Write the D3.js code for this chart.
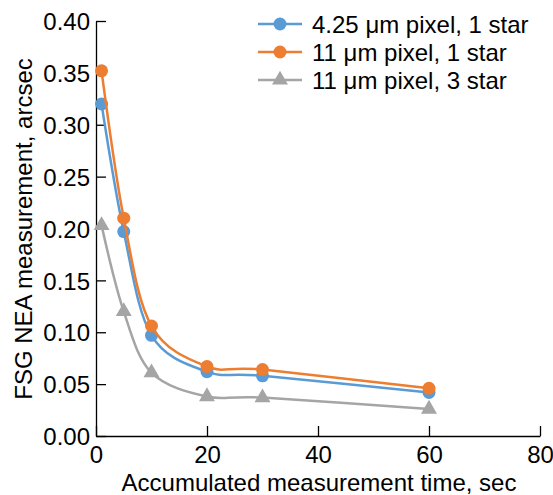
<!DOCTYPE html>
<html><head><meta charset="utf-8">
<script src="https://cdn.jsdelivr.net/npm/d3@7"></script>
<style>body{margin:0;background:#fff;} text{font-family:"Liberation Sans",Arial,sans-serif;fill:#000;}</style>
</head><body>
<svg id="c" width="553" height="495"></svg>
<script>
const xValues = [1, 5, 10, 20, 30, 60];
const blueValues = [0.320, 0.197, 0.097, 0.062, 0.058, 0.042];
const orangeValues = [0.352, 0.210, 0.106, 0.067, 0.064, 0.046];
const grayValues = [0.203, 0.120, 0.061, 0.038, 0.037, 0.026];
const seriesNames = ["4.25 \u03bcm pixel, 1 star", "11 \u03bcm pixel, 1 star", "11 \u03bcm pixel, 3 star"];
const xTicks = [0, 20, 40, 60, 80];
const yTicks = [0, 0.05, 0.10, 0.15, 0.20, 0.25, 0.30, 0.35, 0.40];

const series = [
  {name: seriesNames[0], values: blueValues, color: "#5B9BD5", marker: "circle"},
  {name: seriesNames[1], values: orangeValues, color: "#ED7D31", marker: "circle"},
  {name: seriesNames[2], values: grayValues, color: "#A5A5A5", marker: "triangle"}
];

const svg = d3.select("#c");
const x = d3.scaleLinear().domain([0, 80]).range([96, 540]);
const y = d3.scaleLinear().domain([0, 0.40]).range([436, 21]);

// axes
const xAxis = d3.axisBottom(x).tickValues(xTicks).tickSizeInner(-10).tickSizeOuter(0).tickPadding(14).tickFormat(d3.format("d"));
const gx = svg.append("g").attr("transform", "translate(0,436)").call(xAxis);
const yAxis = d3.axisLeft(y).tickValues(yTicks).tickSizeInner(-10).tickSizeOuter(0).tickPadding(6).tickFormat(d3.format(".2f"));
const gy = svg.append("g").attr("transform", "translate(96,0)").call(yAxis);
[gx, gy].forEach(g => {
  g.select(".domain").attr("stroke", "#000").attr("stroke-width", 1.3);
  g.selectAll(".tick line").attr("stroke", "#000").attr("stroke-width", 1.3);
  g.selectAll(".tick text").style("font-size", "24px").style("font-family", "Liberation Sans, Arial, sans-serif");
});
gx.selectAll(".tick text").attr("y", 27).attr("dy", null);
gy.selectAll(".tick text").attr("dy", "0.36em");

svg.append("text").attr("x", 319).attr("y", 491).attr("text-anchor", "middle").style("font-size", "24px").text("Accumulated measurement time, sec");
svg.append("text").attr("transform", "translate(32,229) rotate(-90)").attr("text-anchor", "middle").style("font-size", "24px").text("FSG NEA measurement, arcsec");

const line = d3.line().x(d => x(d[0])).y(d => y(d[1])).curve(d3.curveCardinal.tension(0));
const tri = d3.symbol().type(d3.symbolTriangle).size(110);

function drawMarker(g, s, cx, cy) {
  if (s.marker === "circle") {
    g.append("circle").attr("cx", cx).attr("cy", cy).attr("r", 6.5).attr("fill", s.color);
  } else {
    g.append("path").attr("d", tri).attr("transform", `translate(${cx},${cy})`).attr("fill", s.color);
  }
}

[series[2], series[0], series[1]].forEach(s => {
  const pts = xValues.map((xv, i) => [xv, s.values[i]]);
  const g = svg.append("g");
  g.append("path").attr("d", line(pts)).attr("fill", "none").attr("stroke", s.color).attr("stroke-width", 2.5);
  pts.forEach(p => drawMarker(g, s, x(p[0]), y(p[1])));
});

// legend
series.forEach((s, i) => {
  const ly = 24 + i * 28;
  const g = svg.append("g");
  g.append("line").attr("x1", 258).attr("x2", 302).attr("y1", ly).attr("y2", ly).attr("stroke", s.color).attr("stroke-width", 2.5);
  drawMarker(g, s, 280, ly);
  g.append("text").attr("x", 312).attr("y", ly).attr("dy", "0.36em").style("font-size", "24px").text(s.name);
});
</script>
</body></html>
